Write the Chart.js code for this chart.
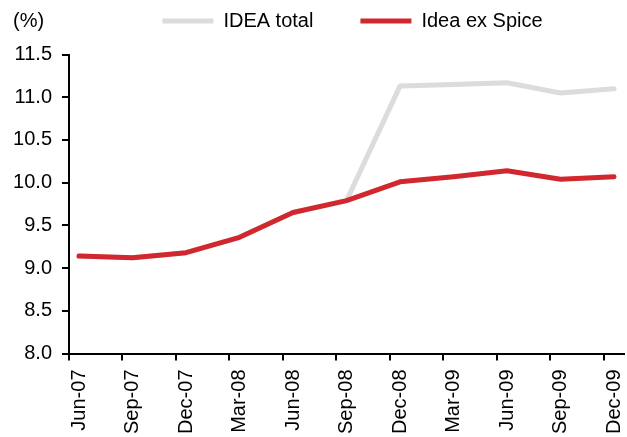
<!DOCTYPE html>
<html><head><meta charset="utf-8">
<script src="https://cdn.jsdelivr.net/npm/chart.js@4.4.1/dist/chart.umd.min.js"></script>
<style>html,body{margin:0;padding:0;background:#fff;}#wrap{width:627px;height:437px;}</style>
</head><body><div id="wrap"><canvas id="c" width="627" height="437"></canvas></div>
<script>
const categories = ['Jun-07','Sep-07','Dec-07','Mar-08','Jun-08','Sep-08','Dec-08','Mar-09','Jun-09','Sep-09','Dec-09'];
const ideaTotal   = [9.14, 9.12, 9.18, 9.36, 9.65, 9.79, 11.13, 11.15, 11.17, 11.05, 11.10];
const ideaExSpice = [9.14, 9.12, 9.18, 9.36, 9.65, 9.79, 10.01, 10.07, 10.14, 10.04, 10.07];
const yTicks = [8.0, 8.5, 9.0, 9.5, 10.0, 10.5, 11.0, 11.5];
const seriesNames = ['IDEA total', 'Idea ex Spice'];
const unitLabel = '(%)';

const X_SHIFT = 0.187;
Chart.defaults.font.family = '"Liberation Sans", Arial, sans-serif';
Chart.defaults.font.size = 20;
Chart.defaults.color = '#000';

const unitPlugin = {
  id: 'unitLabel',
  afterLayout(chart) {
    // place the legend row as in the original
    chart.legend.left += 6;
    chart.legend.right += 6;
    chart.legend.top -= 13.5;
    chart.legend.bottom -= 13.5;
  },
  afterDraw(chart) {
    const ctx = chart.ctx;
    ctx.save();
    ctx.font = '20px "Liberation Sans", Arial, sans-serif';
    ctx.fillStyle = '#000';
    ctx.textAlign = 'left';
    ctx.textBaseline = 'middle';
    ctx.fillText(unitLabel, 13, 21.5);
    ctx.restore();
  }
};

const toPts = arr => arr.map((v, i) => ({x: i, y: v}));

new Chart(document.getElementById('c'), {
  type: 'line',
  data: {
    datasets: [
      { label: seriesNames[0], data: toPts(ideaTotal), borderColor: '#DCDCDC', backgroundColor: '#DCDCDC',
        borderWidth: 5, pointRadius: 0, tension: 0, borderCapStyle: 'round', borderJoinStyle: 'round', order: 1 },
      { label: seriesNames[1], data: toPts(ideaExSpice), borderColor: '#D0282E', backgroundColor: '#D0282E',
        borderWidth: 5, pointRadius: 0, tension: 0, borderCapStyle: 'round', borderJoinStyle: 'round', order: 0 }
    ]
  },
  options: {
    responsive: false,
    animation: false,
    devicePixelRatio: 1,
    events: [],
    layout: { padding: { top: -22.5, left: 13, right: 3, bottom: 3 } },
    plugins: {
      legend: {
        position: 'top', fullSize: false, align: 'center',
        labels: { usePointStyle: true, pointStyle: 'line', pointStyleWidth: 51, padding: 47,
                  color: '#000', font: { size: 20 }, sort: (a, b) => a.datasetIndex - b.datasetIndex }
      },
      tooltip: { enabled: false }
    },
    scales: {
      x: {
        type: 'linear', min: -X_SHIFT, max: categories.length - 1 + X_SHIFT,
        afterBuildTicks: s => { s.ticks = categories.map((c, i) => ({ value: i - X_SHIFT })); },
        afterFit: s => { s.paddingLeft = 0; s.paddingRight = 0; s.height = 80.5; },
        ticks: { autoSkip: false, minRotation: 90, maxRotation: 90, labelOffset: 10, padding: 9,
                 color: '#000', font: { size: 20 }, callback: (v, i) => categories[i] },
        grid: { drawOnChartArea: false, tickLength: 7, color: '#000', lineWidth: 2 },
        border: { color: '#000', width: 2 }
      },
      y: {
        min: yTicks[0], max: yTicks[yTicks.length - 1],
        afterBuildTicks: s => { s.ticks = yTicks.map(v => ({ value: v })); },
        afterFit: s => { s.width = 56; },
        ticks: { padding: 10, color: '#000', font: { size: 20 }, callback: v => Number(v).toFixed(1) },
        grid: { drawOnChartArea: false, tickLength: 7, color: '#000', lineWidth: 2 },
        border: { color: '#000', width: 2 }
      }
    }
  },
  plugins: [unitPlugin]
});
</script></body></html>
